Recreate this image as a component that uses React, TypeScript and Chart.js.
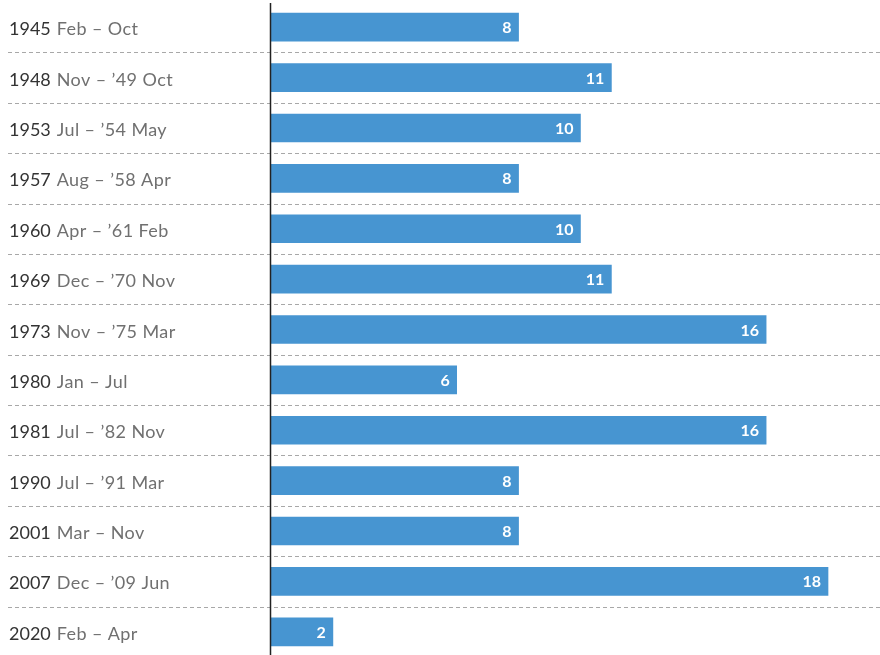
import React, { useEffect, useRef } from "react";
import { Chart, registerables } from "chart.js";

Chart.register(...registerables);

const years = ["1945", "1948", "1953", "1957", "1960", "1969", "1973", "1980", "1981", "1990", "2001", "2007", "2020"];
const spans = [
  "Feb – Oct",
  "Nov – ’49 Oct",
  "Jul – ’54 May",
  "Aug – ’58 Apr",
  "Apr – ’61 Feb",
  "Dec – ’70 Nov",
  "Nov – ’75 Mar",
  "Jan – Jul",
  "Jul – ’82 Nov",
  "Jul – ’91 Mar",
  "Mar – Nov",
  "Dec – ’09 Jun",
  "Feb – Apr",
];
const months = [8, 11, 10, 8, 10, 11, 16, 6, 16, 8, 8, 18, 2];
const categories = years.map((y, i) => `${y} ${spans[i]}`);

const FONT = "Lato, 'Open Sans', sans-serif";

const decorPlugin = {
  id: "decor",
  beforeDatasetsDraw(chart: any) {
    const { ctx, scales } = chart;
    const y = scales.y;
    ctx.save();
    ctx.strokeStyle = "#a8a8a8";
    ctx.lineWidth = 1;
    ctx.setLineDash([4, 3]);
    for (let i = 0; i < categories.length - 1; i++) {
      const py = Math.round((y.getPixelForValue(i) + y.getPixelForValue(i + 1)) / 2) + 0.5;
      ctx.beginPath();
      ctx.moveTo(8, py);
      ctx.lineTo(chart.width, py);
      ctx.stroke();
    }
    ctx.restore();
  },
  afterDatasetsDraw(chart: any) {
    const { ctx, chartArea, scales } = chart;
    const y = scales.y;
    const x = scales.x;
    ctx.save();
    ctx.strokeStyle = "#222";
    ctx.lineWidth = 1.5;
    ctx.beginPath();
    ctx.moveTo(chartArea.left - 0.5, chartArea.top + 1);
    ctx.lineTo(chartArea.left - 0.5, chart.height);
    ctx.stroke();
    ctx.textBaseline = "alphabetic";
    ctx.textAlign = "left";
    for (let i = 0; i < categories.length; i++) {
      const py = y.getPixelForValue(i) + 8;
      ctx.font = `18px ${FONT}`;
      (ctx as any).letterSpacing = "0px";
      ctx.fillStyle = "#333";
      ctx.fillText(years[i], 9, py);
      const w = ctx.measureText(years[i]).width;
      ctx.font = `18px ${FONT}`;
      (ctx as any).letterSpacing = "0.4px";
      ctx.fillStyle = "#707070";
      ctx.fillText(spans[i], 9 + w + 6, py);
    }
    (ctx as any).letterSpacing = "0px";
    ctx.textAlign = "right";
    ctx.font = `bold 16px ${FONT}`;
    ctx.fillStyle = "#ffffff";
    for (let i = 0; i < months.length; i++) {
      const px = x.getPixelForValue(months[i]);
      const py = y.getPixelForValue(i) + 6;
      ctx.fillText(String(months[i]), px - 7, py);
    }
    ctx.restore();
  },
};

export default function App() {
  const ref = useRef<HTMLCanvasElement>(null);
  useEffect(() => {
    if (!ref.current) return;
    const chart = new Chart(ref.current, {
      type: "bar",
      data: {
        labels: categories,
        datasets: [
          {
            data: months,
            backgroundColor: "#4795d1",
            borderWidth: 0,
            barThickness: 28,
          },
        ],
      },
      options: {
        indexAxis: "y",
        responsive: false,
        animation: false,
        layout: { padding: { top: 2, right: 0, bottom: 1, left: 0 } },
        plugins: { legend: { display: false }, tooltip: { enabled: false } },
        scales: {
          x: { display: false, min: 0, max: 19.68 },
          y: {
            display: true,
            ticks: { display: false },
            grid: { display: false },
            border: { display: false },
            afterFit: (s: any) => {
              s.width = 271;
            },
          },
        },
      },
      plugins: [decorPlugin],
    });
    return () => chart.destroy();
  }, []);
  return (
    <div style={{ position: "fixed", left: 0, top: 0, width: 880, height: 655, overflow: "hidden", background: "#fff" }}>
      <canvas ref={ref} width={880} height={658} />
    </div>
  );
}
